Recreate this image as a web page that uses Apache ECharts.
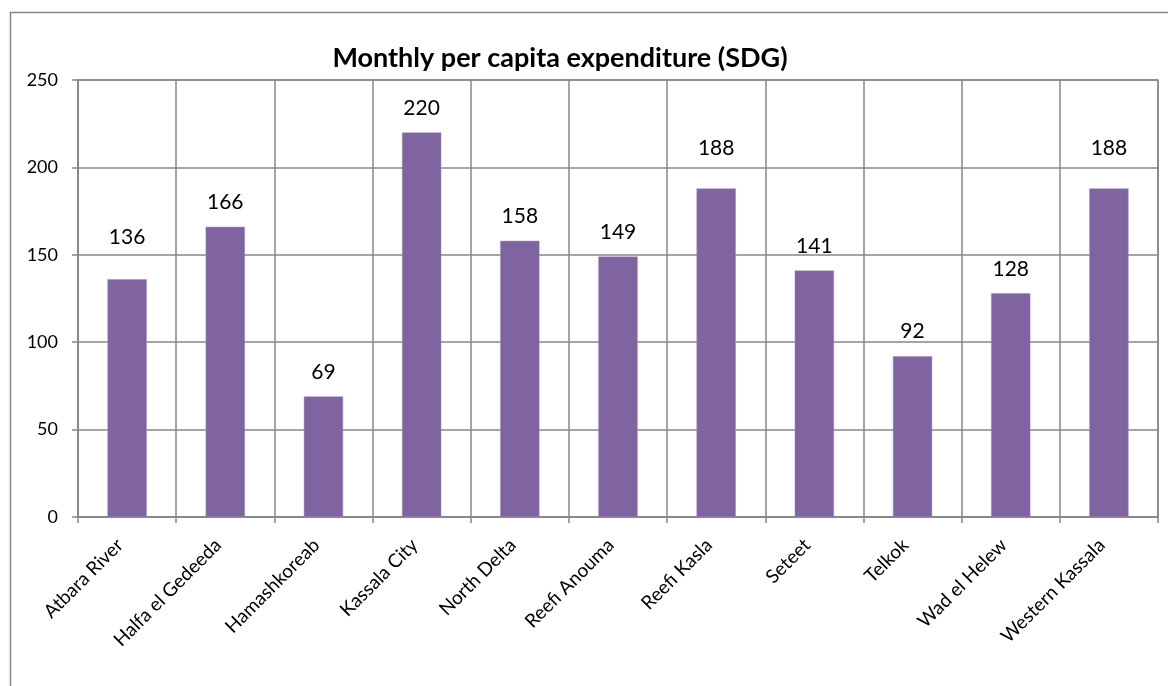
<!DOCTYPE html>
<html>
<head>
<meta charset="utf-8">
<script src="https://cdn.jsdelivr.net/npm/echarts@6/dist/echarts.min.js"></script>
<style>
  html, body { margin: 0; padding: 0; background: #fff; }
  #chart { width: 1168px; height: 686px; }
</style>
</head>
<body>
<div id="chart"></div>
<script>
// localities and values
const regions = ['Atbara River', 'Halfa el Gedeeda', 'Hamashkoreab', 'Kassala City', 'North Delta',
  'Reefi Anouma', 'Reefi Kasla', 'Seteet', 'Telkok', 'Wad el Helew', 'Western Kassala'];
const expenditure = [136, 166, 69, 220, 158, 149, 188, 141, 92, 128, 188];
const yTicks = [0, 50, 100, 150, 200, 250];

// some labels sit higher in the original
const labelRaise = [18, 0, 0, 0, 0, 0, 16, 0, 0, 0, 16];

const gridColor = '#878787';
const font = 'Lato, "Open Sans", sans-serif';

const chart = echarts.init(document.getElementById('chart'));

const option = {
  animation: false,
  title: {
    text: 'Monthly per capita expenditure (SDG)',
    left: 555,
    top: 40,
    textAlign: 'center',
    textStyle: { fontFamily: font, fontSize: 27, fontWeight: 'bold', color: '#000' }
  },
  graphic: [{
    type: 'rect',
    shape: { x: 10.5, y: 12.5, width: 1200, height: 700 },
    style: { fill: 'none', stroke: gridColor, lineWidth: 1.5 },
    silent: true
  }],
  grid: {
    left: 78, right: 10, top: 80, bottom: 169,
    show: true, borderColor: gridColor, borderWidth: 1.5
  },
  xAxis: {
    type: 'category',
    data: regions,
    boundaryGap: true,
    axisLine: { lineStyle: { color: gridColor, width: 1.5 } },
    axisTick: { show: true, length: 6, interval: 0, lineStyle: { color: gridColor, width: 1.5 } },
    splitLine: { show: true, interval: 0, lineStyle: { color: gridColor, width: 1.5 } },
    axisLabel: {
      interval: 0, rotate: 45, margin: 18,
      padding: [0, 10, 0, 0],
      fontFamily: font, fontSize: 19, color: '#000'
    }
  },
  yAxis: {
    type: 'value',
    min: yTicks[0],
    max: yTicks[yTicks.length - 1],
    interval: yTicks[1] - yTicks[0],
    axisLine: { show: true, lineStyle: { color: gridColor, width: 1.5 } },
    axisTick: { show: true, length: 6, lineStyle: { color: gridColor, width: 1.5 } },
    splitLine: { lineStyle: { color: gridColor, width: 1.5 } },
    axisLabel: { margin: 20, fontFamily: font, fontSize: 18, color: '#000' }
  },
  series: [{
    type: 'bar',
    barWidth: '40%',
    data: expenditure.map((v, i) => ({
      value: v,
      label: { distance: 14 + labelRaise[i] }
    })),
    itemStyle: { color: '#8064A2', borderColor: '#a08bbd', borderWidth: 0.5 },
    label: {
      show: true,
      position: 'top',
      fontFamily: font,
      fontSize: 21,
      color: '#000'
    }
  }]
};

chart.setOption(option);
window.addEventListener('resize', () => chart.resize());
</script>
</body>
</html>
